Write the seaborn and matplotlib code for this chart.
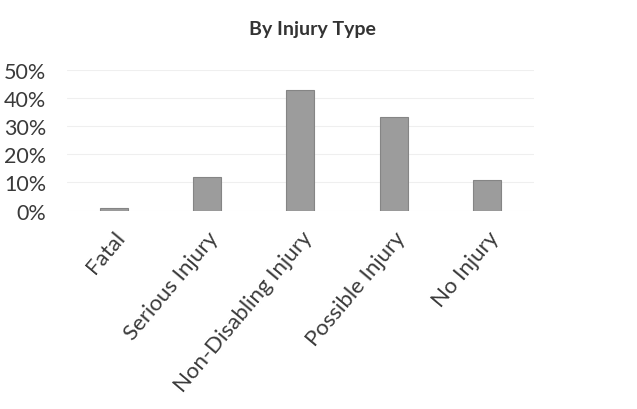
import matplotlib
matplotlib.use("Agg")
import matplotlib.pyplot as plt
import matplotlib.ticker as mticker
import pandas as pd
import seaborn as sns

categories = ["Fatal", "Serious Injury", "Non-Disabling Injury", "Possible Injury", "No Injury"]
shares = [0.8, 11.8, 42.6, 33.1, 11.0]

df = pd.DataFrame({"injury": categories, "share": shares})

sns.set_style("white")
plt.rcParams["font.family"] = ["Lato", "DejaVu Sans"]

fig = plt.figure(figsize=(6.37, 4.10), dpi=100)
ax = fig.add_axes([0.105, 0.484, 0.733, 0.344])

sns.barplot(data=df, x="injury", y="share", color="#9c9c9c", width=0.3,
            edgecolor="#858585", linewidth=0.8, ax=ax)

ax.set_ylim(0, 50)
ax.yaxis.set_major_locator(mticker.MultipleLocator(10))
ax.yaxis.set_major_formatter(mticker.FuncFormatter(lambda v, p: f"{v:.0f}%"))
ax.grid(axis="y", color="#efefef", linewidth=0.8)
ax.set_axisbelow(True)
for s in ax.spines.values():
    s.set_visible(False)
ax.set_xlabel("")
ax.set_ylabel("")
ax.tick_params(axis="y", labelsize=15.5, pad=15, length=0, labelcolor="#3a3a3a")
ax.tick_params(axis="x", labelsize=16, length=0, pad=12, labelcolor="#3a3a3a")
plt.setp(ax.get_xticklabels(), rotation=50, ha="right", rotation_mode="anchor")

fig.text(312 / 637, 1 - 30 / 410, "By Injury Type", ha="center", va="center",
         fontsize=14, fontweight="bold", color="#333333")

fig.savefig("out.png", dpi=100)
